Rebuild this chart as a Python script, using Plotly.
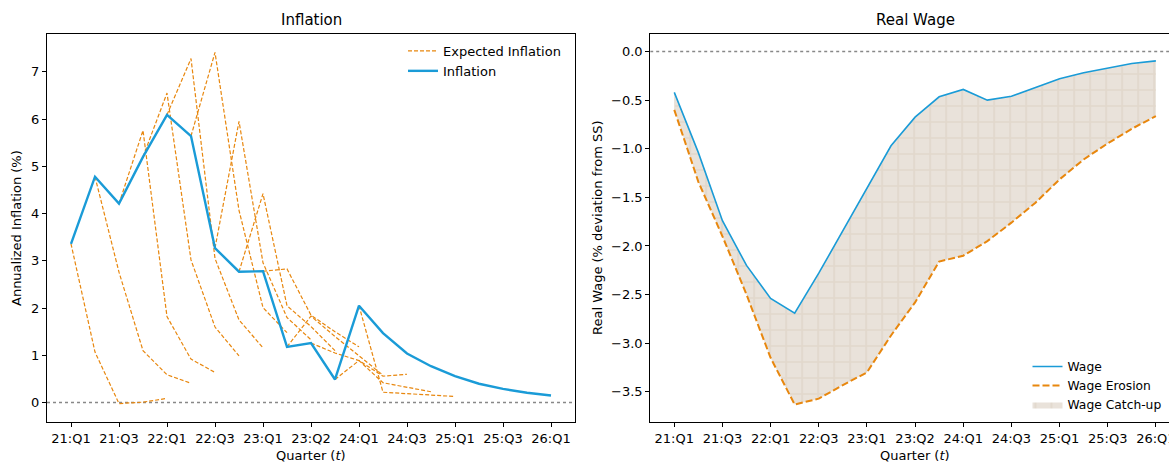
import plotly.graph_objects as go

# ---------------- data ----------------
quarters = ["21:Q1","21:Q2","21:Q3","21:Q4","22:Q1","22:Q2","22:Q3","22:Q4",
            "23:Q1","23:Q2","23:Q3","23:Q4","24:Q1","24:Q2","24:Q3","24:Q4",
            "25:Q1","25:Q2","25:Q3","25:Q4","26:Q1"]
tick_positions = [0, 2, 4, 6, 8, 10, 12, 14, 16, 18, 20]
tick_labels = ["21:Q1","21:Q3","22:Q1","22:Q3","23:Q1","23:Q2","24:Q1","24:Q3","25:Q1","25:Q3","26:Q1"]

inflation = [3.36, 4.78, 4.21, 5.20, 6.09, 5.64, 3.27, 2.77, 2.78, 1.18, 1.26,
             0.49, 2.05, 1.47, 1.04, 0.77, 0.56, 0.40, 0.29, 0.21, 0.15]

# expected-inflation paths: start quarter index and values from that quarter on
expected_start = [0, 1, 2, 3, 4, 5, 6, 7, 8, 9, 10, 11, 12]
expected_paths = [
    [3.36, 1.07, -0.02, 0.01, 0.09],
    [4.78, 2.76, 1.10, 0.59, 0.41],
    [4.21, 5.76, 1.82, 0.92, 0.64],
    [5.20, 6.55, 3.02, 1.60, 0.99],
    [6.09, 7.28, 3.05, 1.75, 1.16],
    [5.64, 7.41, 4.07, 2.01, 1.48],
    [3.27, 5.95, 2.96, 1.80, 1.33],
    [2.77, 4.42, 2.05, 1.61, 1.10],
    [2.78, 2.83, 1.85, 1.50, 1.18],
    [1.18, 1.83, 1.40, 0.98, 0.58],
    [1.26, 1.05, 0.89, 0.56, 0.60],
    [0.49, 0.89, 0.42, 0.32, 0.23],
    [2.05, 0.22, 0.19, 0.16, 0.13],
]

wage = [-0.42, -1.04, -1.74, -2.20, -2.54, -2.69, -2.28, -1.84, -1.40, -0.97, -0.675,
        -0.466, -0.39, -0.50, -0.46, -0.373, -0.281, -0.219, -0.168, -0.123, -0.096]
wage_erosion = [-0.60, -1.34, -1.90, -2.50, -3.15, -3.63, -3.57, -3.43, -3.30, -2.92, -2.58,
                -2.16, -2.10, -1.95, -1.76, -1.555, -1.315, -1.11, -0.945, -0.795, -0.664]

# ---------------- style ----------------
W, H = 1169, 464
BLUE = "#1a9bd7"
ORANGE = "#e8870e"
FONT = "DejaVu Sans"
FS = 13
TFS = 15
x_idx = list(range(len(quarters)))

def px_x(p):
    return p / W

def px_y(p):
    return 1 - p / H

fig = go.Figure()

# ----- left panel -----
fig.add_trace(go.Scatter(x=[-1, 21], y=[0, 0], mode="lines", xaxis="x", yaxis="y",
                         line=dict(color="#888888", width=1.5, dash="dot"),
                         showlegend=False, hoverinfo="skip"))
for k, (s, path) in enumerate(zip(expected_start, expected_paths)):
    fig.add_trace(go.Scatter(
        x=x_idx[s:s + len(path)], y=path, mode="lines", xaxis="x", yaxis="y",
        line=dict(color=ORANGE, width=1.2, dash="4px,2px"),
        name="Expected Inflation", legend="legend", showlegend=(k == 0), legendrank=1))
fig.add_trace(go.Scatter(x=x_idx, y=inflation, mode="lines", xaxis="x", yaxis="y",
                         line=dict(color=BLUE, width=2.4), name="Inflation",
                         legend="legend", legendrank=2))

# ----- right panel -----
fig.add_trace(go.Scatter(x=[-1, 22], y=[0, 0], mode="lines", xaxis="x2", yaxis="y2",
                         line=dict(color="#888888", width=1.5, dash="dot"),
                         showlegend=False, hoverinfo="skip"))
fig.add_trace(go.Scatter(x=x_idx, y=wage_erosion, mode="lines", xaxis="x2", yaxis="y2",
                         line=dict(width=0, color="rgba(0,0,0,0)"), showlegend=False,
                         hoverinfo="skip"))
fig.add_trace(go.Scatter(x=x_idx, y=wage, mode="lines", xaxis="x2", yaxis="y2",
                         line=dict(width=0, color="rgba(0,0,0,0)"), fill="tonexty",
                         fillcolor="#e9e2da",
                         fillpattern=dict(shape="+", size=16, solidity=0.2,
                                          fgcolor="#d9ccbc", bgcolor="#e9e2da"),
                         name="Wage Catch-up", legend="legend2", legendrank=3))
fig.add_trace(go.Scatter(x=x_idx, y=wage, mode="lines", xaxis="x2", yaxis="y2",
                         line=dict(color=BLUE, width=1.6), name="Wage",
                         legend="legend2", legendrank=1))
fig.add_trace(go.Scatter(x=x_idx, y=wage_erosion, mode="lines", xaxis="x2", yaxis="y2",
                         line=dict(color=ORANGE, width=2, dash="7px,3px"),
                         name="Wage Erosion", legend="legend2", legendrank=2))

axis_common = dict(showline=True, linecolor="black", linewidth=1, ticks="outside",
                   ticklen=4, tickwidth=1, tickcolor="black", showgrid=False,
                   zeroline=False, tickfont=dict(family=FONT, size=FS, color="black"))

left_x = [px_x(47), px_x(575)]
right_x = [px_x(650.2), 1.0]
ydom = [px_y(422), px_y(34)]
right_xmax = -1 + (W - 650.2) / 24.08

fig.update_layout(
    width=W, height=H, margin=dict(l=0, r=0, t=0, b=0, autoexpand=False),
    paper_bgcolor="white", plot_bgcolor="white",
    font=dict(family=FONT, size=FS, color="black"),
    xaxis=dict(domain=left_x, range=[-1, 21], tickvals=tick_positions, ticktext=tick_labels,
               anchor="y", mirror=True, **axis_common),
    yaxis=dict(domain=ydom, range=[-0.41, 7.80], tickvals=[0, 1, 2, 3, 4, 5, 6, 7],
               anchor="x", mirror=True, **axis_common),
    xaxis2=dict(domain=right_x, range=[-1, right_xmax], tickvals=tick_positions,
                ticktext=tick_labels, anchor="y2", mirror=True,
                ticklabeloverflow="allow", **axis_common),
    yaxis2=dict(domain=ydom, range=[-3.81, 0.18],
                tickvals=[0, -0.5, -1, -1.5, -2, -2.5, -3, -3.5], tickformat=".1f",
                anchor="x2", **axis_common),
    legend=dict(x=px_x(566), y=px_y(36), xanchor="right", yanchor="top",
                bgcolor="rgba(0,0,0,0)", font=dict(family=FONT, size=FS),
                itemwidth=30, tracegroupgap=0, traceorder="normal"),
    legend2=dict(x=px_x(1166.5), y=px_y(419), xanchor="right", yanchor="bottom",
                 bgcolor="rgba(0,0,0,0)", font=dict(family=FONT, size=12.3),
                 itemwidth=30, tracegroupgap=0, traceorder="normal"),
    annotations=[
        dict(text="Inflation", x=(left_x[0] + left_x[1]) / 2, y=px_y(20), xref="paper",
             yref="paper", showarrow=False, font=dict(family=FONT, size=TFS),
             xanchor="center", yanchor="middle"),
        dict(text="Real Wage", x=(px_x(650.2) + px_x(1180)) / 2, y=px_y(20), xref="paper",
             yref="paper", showarrow=False, font=dict(family=FONT, size=TFS),
             xanchor="center", yanchor="middle"),
        dict(text="Quarter (<i>t</i>)", x=(left_x[0] + left_x[1]) / 2, y=px_y(455),
             xref="paper", yref="paper", showarrow=False, font=dict(family=FONT, size=FS),
             xanchor="center", yanchor="middle"),
        dict(text="Quarter (<i>t</i>)", x=(px_x(650.2) + px_x(1180)) / 2, y=px_y(455),
             xref="paper", yref="paper", showarrow=False, font=dict(family=FONT, size=FS),
             xanchor="center", yanchor="middle"),
        dict(text="Annualized Inflation (%)", x=px_x(16), y=(ydom[0] + ydom[1]) / 2,
             xref="paper", yref="paper", showarrow=False, textangle=-90,
             font=dict(family=FONT, size=FS), xanchor="center", yanchor="middle"),
        dict(text="Real Wage (% deviation from SS)", x=px_x(597), y=(ydom[0] + ydom[1]) / 2,
             xref="paper", yref="paper", showarrow=False, textangle=-90,
             font=dict(family=FONT, size=FS), xanchor="center", yanchor="middle"),
    ],
)

fig.write_html("out.html")
